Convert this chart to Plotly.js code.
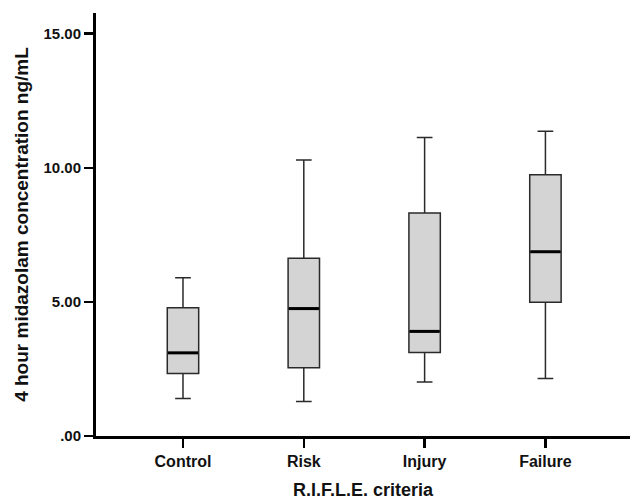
<!DOCTYPE html>
<html>
<head>
<meta charset="utf-8">
<script src="https://cdn.plot.ly/plotly-3.0.1.min.js"></script>
<style>html,body{margin:0;padding:0;background:#fff;}#chart{width:630px;height:501px;}</style>
</head>
<body>
<div id="chart"></div>
<script>
const categories = ["Control", "Risk", "Injury", "Failure"];
const lowerWhisker = [1.40, 1.29, 2.01, 2.14];
const q1Values = [2.33, 2.54, 3.11, 4.99];
const medianValues = [3.10, 4.75, 3.90, 6.87];
const q3Values = [4.78, 6.63, 8.31, 9.74];
const upperWhisker = [5.90, 10.29, 11.13, 11.36];
const yTickVals = [0, 5, 10, 15];
const yTickText = [".00", "5.00", "10.00", "15.00"];

const FONT = "Liberation Sans, Arial, sans-serif";

const boxTrace = {
  type: "box",
  x: categories,
  q1: q1Values,
  median: medianValues,
  q3: q3Values,
  lowerfence: lowerWhisker,
  upperfence: upperWhisker,
  fillcolor: "#d4d4d4",
  line: {color: "#2a2a2a", width: 1.5},
  width: 0.26,
  whiskerwidth: 0.5,
  boxpoints: false,
  hoverinfo: "skip",
  showlegend: false
};

const medianTrace = {
  type: "scatter",
  mode: "markers",
  x: categories,
  y: medianValues,
  marker: {symbol: "line-ew", size: 21.5, color: "#000", line: {color: "#000", width: 3}},
  hoverinfo: "skip",
  showlegend: false
};

const layout = {
  width: 630,
  height: 501,
  margin: {l: 96, r: 0, t: 13, b: 65},
  paper_bgcolor: "#fff",
  plot_bgcolor: "#fff",
  showlegend: false,
  font: {family: FONT, color: "#111"},
  xaxis: {
    type: "category",
    range: [-0.72, 3.70],
    showline: true,
    linecolor: "#000",
    linewidth: 3,
    ticks: "outside",
    ticklen: 9,
    tickwidth: 2.5,
    tickcolor: "#000",
    showgrid: false,
    zeroline: false,
    tickfont: {family: FONT, size: 16, color: "#111", weight: "bold"},
    title: {text: "R.I.F.L.E. criteria", font: {family: FONT, size: 18, color: "#111", weight: "bold"}, standoff: 15}
  },
  yaxis: {
    range: [0, 15.77],
    showline: true,
    linecolor: "#000",
    linewidth: 3,
    ticks: "outside",
    ticklen: 9,
    tickwidth: 2.5,
    tickcolor: "#000",
    tickmode: "array",
    tickvals: yTickVals,
    ticktext: yTickText,
    showgrid: false,
    zeroline: false,
    tickfont: {family: FONT, size: 15, color: "#111", weight: "bold"},
    title: {text: "4 hour midazolam concentration ng/mL", font: {family: FONT, size: 19, color: "#111", weight: "bold"}, standoff: 10}
  }
};

Plotly.newPlot("chart", [boxTrace, medianTrace], layout, {displayModeBar: false, staticPlot: true});
</script>
</body>
</html>
